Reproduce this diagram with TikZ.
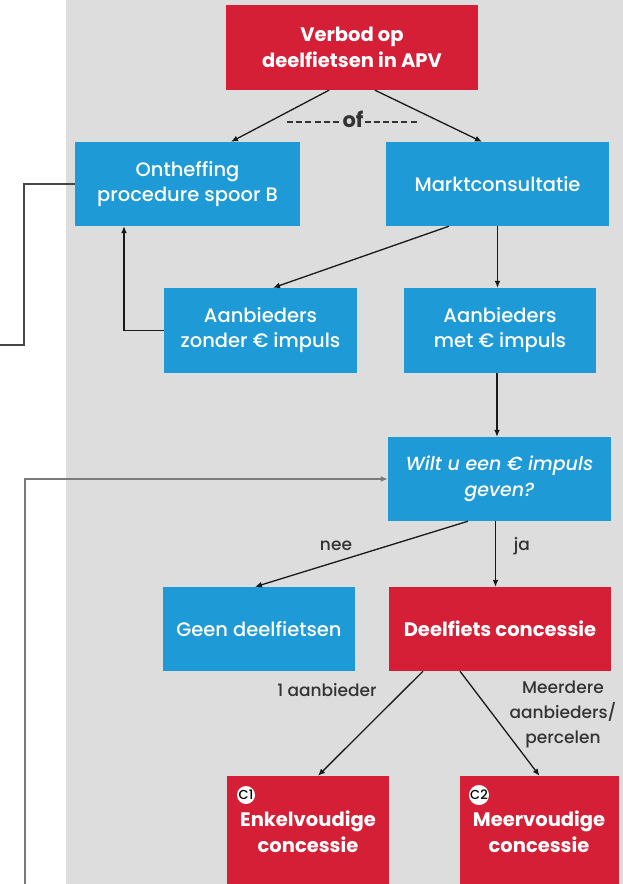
\documentclass[tikz,border=0pt]{standalone}
\usepackage{fontspec}
\setmainfont{Poppins}
\newfontfamily\medfont{Poppins Medium}
\usetikzlibrary{arrows.meta,calc}
\definecolor{bblue}{HTML}{1E9BD7}
\definecolor{rred}{HTML}{D51F36}
\definecolor{bgg}{HTML}{DDDDDD}
\definecolor{lbl}{HTML}{333333}
\begin{document}
\begin{tikzpicture}[x=1pt,y=-1pt,
  box/.style={rectangle, inner sep=0pt, align=center, text=white, font=\medfont\fontsize{19.5}{25}\selectfont},
  bluebox/.style={box, fill=bblue},
  redbox/.style={box, fill=rred, font=\bfseries\fontsize{19.5}{26}\selectfont},
  arr/.style={-{Latex[length=7pt,width=6pt]}, line width=1.3pt, draw=black!90},
  loopline/.style={line width=1.3pt, draw=black!72},
  graylink/.style={-{Latex[length=7pt,width=6pt]}, line width=1.5pt, draw=black!52},
  lab/.style={text=lbl, align=center, inner sep=0pt, font=\medfont\fontsize{17}{25}\selectfont},
  dashline/.style={line width=1.8pt, draw=lbl, dash pattern=on 6pt off 3.2pt},
  badge/.style={circle, fill=white, inner sep=0pt, minimum size=18pt, text=black, font=\medfont\fontsize{13}{13}\selectfont}
]
\useasboundingbox (0,0) rectangle (623,884);
\fill[bgg] (65.5,0) rectangle (623,884);

\node[redbox, minimum width=252, minimum height=85] (verbod) at (352,47.5) {Verbod op\\deelfietsen in APV};
\node[bluebox, minimum width=225, minimum height=84] (onth) at (187.5,184) {Ontheffing\\procedure spoor B};
\node[bluebox, minimum width=223, minimum height=84] (markt) at (497.5,184) {Marktconsultatie};
\node[bluebox, minimum width=193, minimum height=85] (zonder) at (260.5,330.5) {Aanbieders\\zonder € impuls};
\node[bluebox, minimum width=192, minimum height=85] (met) at (500,330.5) {Aanbieders\\met € impuls};
\node[bluebox, minimum width=223, minimum height=84, font=\medfont\itshape\fontsize{19}{26}\selectfont] (wilt) at (499.5,479) {Wilt u een € impuls\\geven?};
\node[bluebox, minimum width=192, minimum height=84] (geen) at (259,629) {Geen deelfietsen};
\node[redbox, minimum width=222, minimum height=84] (deel) at (500,629) {Deelfiets concessie};
\node[redbox, minimum width=162, minimum height=114] (c1) at (308,833) {};
\node[redbox, minimum width=159, minimum height=114] (c2) at (539.5,833) {};
\node[redbox, fill=none] (c1t) at (308,832) {Enkelvoudige\\concessie};
\node[redbox, fill=none] (c2t) at (539,832) {Meervoudige\\concessie};
\node[badge] (c1b) at (246,795) {C1};
\node[badge] (c2b) at (479,795) {C2};

\node[lab, font=\bfseries\fontsize{21}{25}\selectfont] (of) at (353,119.5) {of};
\coordinate (ofl) at (287,122);
\coordinate (ofr) at (417,122);
\draw[dashline] (ofl) -- ([xshift=-1pt]of.west |- ofl);
\draw[dashline] ([xshift=1pt]of.east |- ofr) -- (ofr);
\node[lab] (nee) at (336,546) {nee};
\node[lab] (ja) at (522,546) {ja};
\node[lab] (een) at (327,690) {1 aanbieder};
\node[lab] (meer) at (563,714) {Meerdere\\aanbieders/\\percelen};

\draw[arr] ([xshift=-23pt]verbod.south) -- ([xshift=43.5pt]onth.north);
\draw[arr] ([xshift=23pt]verbod.south) -- ([xshift=-15.5pt]markt.north);
\draw[arr] ([xshift=-48.5pt]markt.south) -- ([xshift=12.5pt]zonder.north);
\draw[arr] (markt.south) -- (markt.south |- met.north);
\draw[arr] (zonder.west) -| ([xshift=-63.5pt]onth.south);
\draw[arr] ([xshift=-3pt]met.south) -- ([xshift=-3pt]met.south |- wilt.north);
\draw[arr] ([xshift=-31.5pt]wilt.south) -- ([xshift=-4pt]geen.north);
\draw[arr] ([xshift=-4pt]wilt.south) -- ([xshift=-4pt]wilt.south |- deel.north);
\draw[arr] ([xshift=-77pt]deel.south) -- ([xshift=10pt]c1.north);
\draw[arr] ([xshift=-40pt]deel.south) -- (c2.north);

\coordinate (ul) at (24,345);
\coordinate (ulend) at (0,345);
\draw[loopline] (onth.west) -| (ul) -- (ulend);
\coordinate (bl) at (25,884);
\draw[graylink] (bl) |- (wilt.west);
\end{tikzpicture}
\end{document}
